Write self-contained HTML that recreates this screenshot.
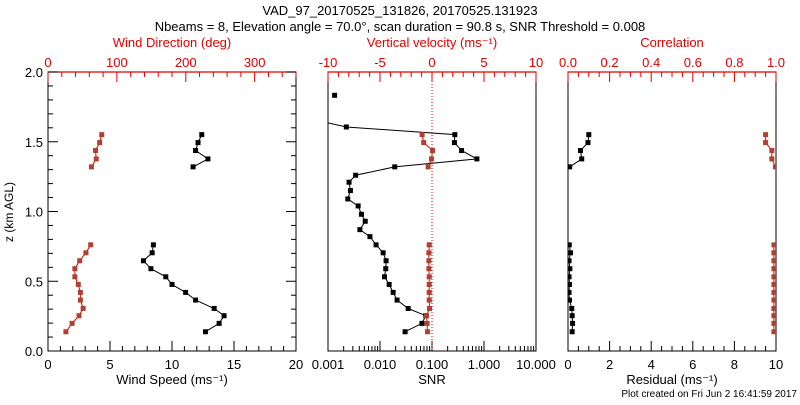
<!DOCTYPE html>
<html><head><meta charset="utf-8"><style>
body{margin:0;background:#fff}
svg text{font-family:"Liberation Sans",sans-serif}
</style></head><body>
<svg id="c" width="800" height="400" xmlns="http://www.w3.org/2000/svg">
<rect width="800" height="400" fill="#fff"/>
<text x="400" y="15" font-size="13" text-anchor="middle">VAD_97_20170525_131826, 20170525.131923</text>
<text x="400" y="31" font-size="13" text-anchor="middle">Nbeams = 8, Elevation angle = 70.0°, scan duration = 90.8 s, SNR Threshold = 0.008</text>
<text x="797" y="397" font-size="10" text-anchor="end">Plot created on Fri Jun  2 16:41:59 2017</text>
</svg>
<script>
const zLow=[0.138,0.198,0.253,0.305,0.365,0.42,0.477,0.532,0.59,0.647,0.704,0.761];
const zUp=[1.32,1.377,1.437,1.494,1.551];
const speedLow=[12.7,13.8,14.2,13.4,11.9,11.1,10.0,9.5,8.3,7.7,8.4,8.5];
const speedUp=[11.7,12.9,11.9,12.1,12.4];
const dirLow=[26,35,45,51,47,47,44,39,39,46,55,62];
const dirUp=[63,70,69,75,78];
const zSnr=[0.138,0.198,0.253,0.305,0.365,0.42,0.477,0.532,0.59,0.647,0.704,0.761,0.82,0.87,0.93,0.98,1.04,1.09,1.15,1.21,1.26,1.32,1.377,1.437,1.494,1.551,1.606,1.66];
const snrVals=[0.0304,0.064,0.076,0.0348,0.0213,0.0179,0.015,0.0122,0.0129,0.0131,0.0115,0.0084,0.0064,0.0041,0.0052,0.0044,0.0038,0.0024,0.0027,0.00254,0.0034,0.0192,0.73,0.37,0.27,0.275,0.00225,0.0005];
const zSnrTop=[1.833];
const snrTop=[0.00134];
const wLow=[-0.43,-0.47,-0.53,-0.24,-0.27,-0.27,-0.27,-0.27,-0.3,-0.3,-0.3,-0.27];
const wUp=[-0.37,-0.05,0.05,-0.8,-0.95];
const resLow=[0.2,0.22,0.2,0.18,0.07,0.05,0.07,0.05,0.09,0.05,0.12,0.06];
const resUp=[0.08,0.66,0.6,0.96,1.0];
const corLow=[0.99,0.99,0.99,0.99,0.99,0.99,0.99,0.99,0.99,0.99,0.99,0.99];
const corUp=[0.997,0.98,0.98,0.95,0.95];
const speedTicks=[0,5,10,15,20];
const dirTicks=[0,100,200,300];
const snrTicks=['0.001','0.010','0.100','1.000','10.000'];
const vvTicks=[-10,-5,0,5,10];
const resTicks=[0,2,4,6,8,10];
const corTicks=[0,0.2,0.4,0.6,0.8,1.0];

const NS="http://www.w3.org/2000/svg";
const svg=document.getElementById('c');
const T=72,B=351,RED="#e00000",MRK="#b04030";
const yS=z=>B-(z/2)*(B-T);
function el(tag,a,p){const e=document.createElementNS(NS,tag);for(const k in a)e.setAttribute(k,a[k]);(p||svg).appendChild(e);return e;}
function txt(x,y,s,col,anchor,size){const t=el('text',{x:x,y:y,'font-size':size||13,fill:col||'#000','text-anchor':anchor||'middle'});t.textContent=s;return t;}
function clip(id,x0,x1){const d=el('defs',{});const cp=el('clipPath',{id:id},d);el('rect',{x:x0,y:T,width:x1-x0,height:B-T},cp);}
function series(xs,zs,xf,col,mcol,name,cid){
  const g=el('g',{'clip-path':'url(#'+cid+')'});
  
  
  const pts=xs.map((v,i)=>xf(v).toFixed(1)+','+yS(zs[i]).toFixed(1)).join(' ');
  el('polyline',{points:pts,fill:'none',stroke:col,'stroke-width':1},g);
  xs.forEach((v,i)=>{const m=el('rect',{x:xf(v)-2.5,y:yS(zs[i])-2.5,width:5,height:5,fill:mcol},g);
    
    });
}
function frame(x0,x1,name){const r=el('rect',{x:x0,y:T,width:x1-x0,height:B-T,fill:'none',stroke:'#000','stroke-width':1});
  
  
  el('line',{x1:x0,y1:T,x2:x1,y2:T,stroke:RED,'stroke-width':1.2});}
function label(x,y,s,col,name){const t=txt(x,y,s,col);
  
  }
// Panel 1
clip('c1',48,296);frame(48,296,'wind-panel');
const fs=v=>48+v/20*248;
for(let v=0;v<=20;v++){el('line',{x1:fs(v),y1:B,x2:fs(v),y2:B-(v%5==0?10:5),stroke:'#000'});}
speedTicks.forEach(v=>label(fs(v),B+18,String(v),'#000','speed-tick-label'));
const fd=v=>48+v/360*248;
for(let v=0;v<=360;v+=20){el('line',{x1:fd(v),y1:T,x2:fd(v),y2:T+(v%100==0?10:5),stroke:RED});}
dirTicks.forEach(v=>label(fd(v),T-5,String(v),RED,'wind-dir-tick-label'));
for(let i=0;i<=20;i++){const z=i/10;const M=i%5==0;const L=M?10:5;
  el('line',{x1:48,y1:yS(z),x2:48+L,y2:yS(z),stroke:'#000'});el('line',{x1:296,y1:yS(z),x2:296-L,y2:yS(z),stroke:'#000'});
  if(M){const t=txt(43,yS(z)+5,z.toFixed(1),'#000','end');}}
let yt=txt(0,0,'z (km AGL)','#000','middle',12);yt.setAttribute('transform','translate(13,212) rotate(-90)');

series(speedLow,zLow,fs,'#000','#000','wind-speed-low','c1');series(speedUp,zUp,fs,'#000','#000','wind-speed-up','c1');
series(dirLow,zLow,fd,RED,MRK,'wind-dir-low','c1');series(dirUp,zUp,fd,RED,MRK,'wind-dir-up','c1');
label(172,47,'Wind Direction (deg)',RED,'wind-dir-axis-title');
label(172,384,'Wind Speed (ms\u207B\u00B9)','#000','wind-speed-axis-title');
// Panel 2
clip('c2',328,536);frame(328,536,'snr-panel');
const fl=v=>328+(Math.log10(v)+3)/4*208;
for(let d=-3;d<1;d++){for(let k=1;k<10;k++){const v=k*Math.pow(10,d);el('line',{x1:fl(v),y1:B,x2:fl(v),y2:B-(k==1?10:5),stroke:'#000'});}}
snrTicks.forEach(s=>label(fl(parseFloat(s)),B+18,s,'#000','snr-tick-label'));
const fw=v=>328+(v+10)/20*208;
for(let v=-10;v<=10;v++){el('line',{x1:fw(v),y1:T,x2:fw(v),y2:T+(v%5==0?10:5),stroke:RED});}
vvTicks.forEach(v=>label(fw(v),T-5,String(v),RED,'vv-tick-label'));
el('line',{x1:fw(0),y1:T,x2:fw(0),y2:B,stroke:RED,'stroke-dasharray':'1,2'});
series(snrVals,zSnr,fl,'#000','#000','snr-profile','c2');series(snrTop,zSnrTop,fl,'#000','#000','snr-top','c2');
series(wLow,zLow,fw,RED,MRK,'vv-low','c2');series(wUp,zUp,fw,RED,MRK,'vv-up','c2');
label(432,47,'Vertical velocity (ms\u207B\u00B9)',RED,'vv-axis-title');
label(432,384,'SNR','#000','snr-axis-title');
// Panel 3
clip('c3',568,776);frame(568,776,'residual-panel');
const fr=v=>568+v/10*208;
for(let i=0;i<=20;i++){el('line',{x1:fr(i/2),y1:B,x2:fr(i/2),y2:B-(i%4==0?10:5),stroke:'#000'});}
resTicks.forEach(v=>label(fr(v),B+18,String(v),'#000','residual-tick-label'));
const fc=v=>568+v*208;
for(let i=0;i<=20;i++){el('line',{x1:fc(i/20),y1:T,x2:fc(i/20),y2:T+(i%4==0?10:5),stroke:RED});}
corTicks.forEach(v=>label(fc(v),T-5,v.toFixed(1),RED,'corr-tick-label'));
series(resLow,zLow,fr,'#000','#000','residual-low','c3');series(resUp,zUp,fr,'#000','#000','residual-up','c3');
series(corLow,zLow,fc,RED,MRK,'corr-low','c3');series(corUp,zUp,fc,RED,MRK,'corr-up','c3');
label(672,47,'Correlation',RED,'corr-axis-title');
label(672,384,'Residual (ms\u207B\u00B9)','#000','residual-axis-title');
</script>
</body></html>
